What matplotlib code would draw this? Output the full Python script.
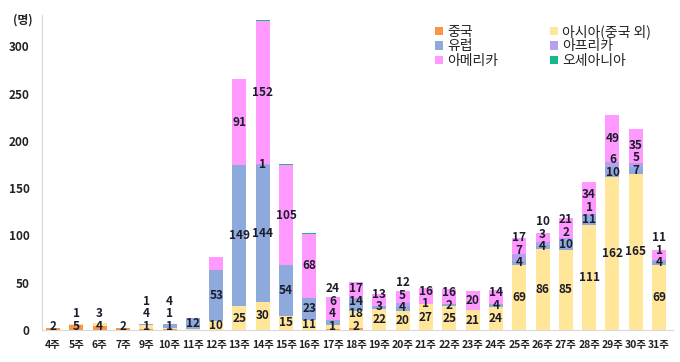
import matplotlib
matplotlib.use("Agg")
import matplotlib.pyplot as plt
import numpy as np

plt.rcParams['font.family'] = ['Noto Sans CJK KR', 'DejaVu Sans']

weeks = ["4주", "5주", "6주", "7주", "9주", "10주", "11주", "12주", "13주", "14주",
         "15주", "16주", "17주", "18주", "19주", "20주", "21주", "22주", "23주", "24주",
         "25주", "26주", "27주", "28주", "29주", "30주", "31주"]

china   = [2, 5, 4, 2, 1, 1, 0, 0, 0, 0, 0, 0, 1, 2, 0, 0, 0, 0, 0, 0, 0, 0, 0, 0, 0, 0, 0]
asia    = [0, 1, 3, 0, 4, 1, 1, 10, 25, 30, 15, 11, 4, 18, 22, 20, 27, 25, 21, 24, 69, 86, 85, 111, 162, 165, 69]
europe  = [0, 0, 0, 0, 1, 4, 12, 53, 149, 144, 54, 23, 6, 14, 3, 4, 1, 2, 0, 4, 4, 4, 10, 11, 10, 7, 4]
africa  = [0, 0, 0, 0, 0, 0, 0, 0, 0, 1, 0, 0, 0, 0, 0, 5, 0, 0, 0, 0, 7, 3, 2, 1, 6, 5, 1]
america = [0, 0, 0, 0, 0, 0, 0, 14, 91, 152, 105, 68, 24, 17, 13, 12, 16, 16, 20, 14, 17, 10, 21, 34, 49, 35, 11]
oceania = [0, 0, 0, 0, 0, 0, 0, 0, 0, 1, 1, 1, 0, 0, 0, 0, 0, 0, 0, 0, 0, 0, 0, 0, 0, 1, 0]

series_names = ["중국", "아시아(중국 외)", "유럽", "아프리카", "아메리카", "오세아니아"]
series_vals = [china, asia, europe, africa, america, oceania]
colors = ["#F79646", "#FFE699", "#8EA9DB", "#B4A0EC", "#FF99FF", "#14B88A"]
# segments drawn without a value label in the original
unlabeled = {("11주", "아시아(중국 외)"), ("12주", "아메리카")}
label_series = {"중국", "아시아(중국 외)", "유럽", "아프리카", "아메리카"}

fig = plt.figure(figsize=(6.8, 3.62), dpi=100)
ax = fig.add_axes([0.0618, 0.0884, 0.928, 0.870])

x = np.arange(len(weeks))
bottom = np.zeros(len(weeks))
handles = {}
labels_per_bar = [[] for _ in weeks]
for name, vals, col in zip(series_names, series_vals, colors):
    v = np.array(vals, dtype=float)
    bars = ax.bar(x, v, 0.6, bottom=bottom, color=col, edgecolor='none', label=name)
    handles[name] = bars
    if name in label_series:
        for i, (w, val) in enumerate(zip(weeks, vals)):
            if val != 0 and (w, name) not in unlabeled:
                labels_per_bar[i].append((bottom[i] + val / 2.0, str(val)))
    bottom += v

# place labels at segment centres, nudging upward so small ones do not collide
min_sep = 13.5
for i, labs in enumerate(labels_per_bar):
    prev = -1e9
    for yc, txt in labs:
        y = max(yc, 3.5, prev + min_sep)
        ax.text(x[i], y, txt, ha='center', va='center', fontsize=8.5,
                fontweight='bold', color='#1C1C2C')
        prev = y

ax.set_xlim(-0.47, len(weeks) - 0.4)
ax.set_ylim(0, 333)
ax.set_yticks([0, 50, 100, 150, 200, 250, 300])
ax.set_xticks(x)
ax.set_xticklabels(weeks)
for lab in ax.get_yticklabels():
    lab.set_fontweight('bold')
    lab.set_fontsize(8.5)
    lab.set_color('#222222')
for lab in ax.get_xticklabels():
    lab.set_fontweight('bold')
    lab.set_fontsize(7.5)
    lab.set_color('#222222')
ax.tick_params(axis='both', length=0)
ax.tick_params(axis='y', pad=9)
ax.tick_params(axis='x', pad=7)
for s in ['top', 'right']:
    ax.spines[s].set_visible(False)
ax.spines['left'].set_color('#D9D9D9')
ax.spines['bottom'].set_color('#D9D9D9')

order = ["중국", "유럽", "아메리카", "아시아(중국 외)", "아프리카", "오세아니아"]
leg = ax.legend([handles[n] for n in order], order, ncol=2, loc='upper left',
                bbox_to_anchor=(0.61, 0.997), frameon=False, fontsize=10,
                handlelength=0.55, handleheight=0.55, handletextpad=0.3,
                columnspacing=3.75, labelspacing=0.02, borderaxespad=0.2)
for t in leg.get_texts():
    t.set_color('#222222')

fig.text(0.034, 0.945, "(명)", fontsize=8.5, fontweight='bold', ha='center', va='center', color='#222222')

fig.savefig("out.png", dpi=100)
